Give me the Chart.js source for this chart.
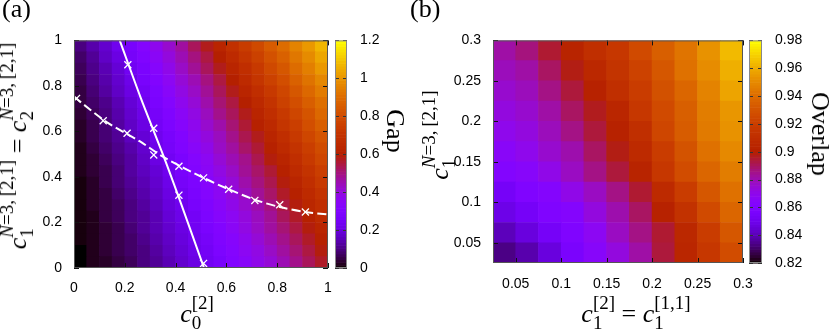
<!DOCTYPE html>
<html>
<head>
<meta charset="utf-8">
<script src="https://cdn.jsdelivr.net/npm/chart.js@4.4.1/dist/chart.umd.min.js"></script>
<style>
body { margin: 0; background: #fff; }
#wrap { position: relative; width: 831px; height: 332px; overflow: hidden; }
canvas { position: absolute; top: 0; }
#ca { left: 0; }
#cb { left: 415px; }
.t { position: absolute; font-family: "Liberation Serif", "Times New Roman", serif; font-size: 26px; color: #000; white-space: nowrap; line-height: 1; }
.t i { font-style: italic; }
.ss { display: inline-block; vertical-align: -7px; font-size: 19px; line-height: 20px; }
.ss > span { display: block; }
.ctr { transform: translate(-50%, -50%); }
.up { transform: translate(-50%, -50%) rotate(-90deg); }
.down { transform: translate(-50%, -50%) rotate(90deg); }
</style>
</head>
<body>
<div id="wrap">
  <canvas id="ca" width="415" height="332"></canvas>
  <canvas id="cb" width="416" height="332"></canvas>

  <div class="t" style="left:2px;top:-4px">(a)</div>
  <div class="t" style="left:410px;top:-4px">(b)</div>

  <div class="t up" style="left:17px;top:146px"><i>c</i><span class="ss"><span><i>N</i>=3,&thinsp;[2,1]</span><span>1</span></span> = <i>c</i><span class="ss"><span><i>N</i>=3,&thinsp;[2,1]</span><span>2</span></span></div>
  <div class="t ctr" style="left:197px;top:313px"><i>c</i><span class="ss"><span>[2]</span><span>0</span></span></div>
  <div class="t down" style="left:395px;top:131px">Gap</div>

  <div class="t up" style="left:439px;top:135px"><i>c</i><span class="ss"><span><i>N</i>=3,&thinsp;[2,1]</span><span>1</span></span></div>
  <div class="t ctr" style="left:636px;top:313px"><i>c</i><span class="ss"><span>[2]</span><span>1</span></span> = <i>c</i><span class="ss"><span>[1,1]</span><span>1</span></span></div>
  <div class="t down" style="left:820px;top:134px">Overlap</div>
</div>

<script>
// ---------- panel (a): gap ----------
const gapC0 = [0.025, 0.075, 0.125, 0.175, 0.225, 0.275, 0.325, 0.375, 0.425, 0.475,
               0.525, 0.575, 0.625, 0.675, 0.725, 0.775, 0.825, 0.875, 0.925, 0.975];
const gapC1 = [0.025, 0.075, 0.125, 0.175, 0.225, 0.275, 0.325, 0.375, 0.425, 0.475,
               0.525, 0.575, 0.625, 0.675, 0.725, 0.775, 0.825, 0.875, 0.925, 0.975];
// one row per c1 value, bottom row first
const gapRows = [
  [0.00,0.02,0.03,0.05,0.07,0.10,0.12,0.15,0.18,0.21,0.24,0.27,0.31,0.34,0.38,0.41,0.45,0.49,0.53,0.57],
  [0.00,0.02,0.04,0.06,0.08,0.10,0.13,0.16,0.19,0.22,0.25,0.29,0.32,0.36,0.39,0.43,0.47,0.51,0.55,0.59],
  [0.01,0.02,0.04,0.06,0.08,0.11,0.14,0.17,0.20,0.23,0.26,0.30,0.33,0.37,0.41,0.45,0.49,0.53,0.57,0.61],
  [0.01,0.02,0.04,0.06,0.09,0.12,0.15,0.18,0.21,0.24,0.28,0.31,0.35,0.39,0.43,0.47,0.51,0.55,0.59,0.63],
  [0.01,0.02,0.05,0.07,0.10,0.12,0.15,0.19,0.22,0.25,0.29,0.33,0.36,0.40,0.44,0.48,0.53,0.57,0.61,0.66],
  [0.01,0.03,0.05,0.07,0.10,0.13,0.16,0.20,0.23,0.27,0.30,0.34,0.38,0.42,0.46,0.50,0.55,0.59,0.64,0.68],
  [0.01,0.03,0.05,0.08,0.11,0.14,0.17,0.21,0.24,0.28,0.32,0.36,0.40,0.44,0.48,0.52,0.57,0.61,0.66,0.70],
  [0.01,0.03,0.06,0.09,0.12,0.15,0.18,0.22,0.26,0.29,0.33,0.37,0.41,0.46,0.50,0.54,0.59,0.63,0.68,0.73],
  [0.02,0.04,0.06,0.09,0.13,0.16,0.19,0.23,0.27,0.31,0.35,0.39,0.43,0.48,0.52,0.56,0.61,0.66,0.70,0.75],
  [0.02,0.04,0.07,0.10,0.13,0.17,0.21,0.24,0.28,0.32,0.36,0.41,0.45,0.49,0.54,0.59,0.63,0.68,0.73,0.78],
  [0.02,0.05,0.08,0.11,0.14,0.18,0.22,0.26,0.30,0.34,0.38,0.43,0.47,0.52,0.56,0.61,0.66,0.70,0.75,0.80],
  [0.03,0.06,0.09,0.12,0.16,0.19,0.23,0.27,0.31,0.36,0.40,0.44,0.49,0.54,0.58,0.63,0.68,0.73,0.78,0.83],
  [0.03,0.06,0.09,0.13,0.17,0.21,0.25,0.29,0.33,0.37,0.42,0.46,0.51,0.56,0.61,0.65,0.71,0.75,0.81,0.86],
  [0.04,0.07,0.10,0.14,0.18,0.22,0.26,0.30,0.35,0.39,0.44,0.49,0.53,0.58,0.63,0.68,0.73,0.78,0.83,0.89],
  [0.05,0.08,0.11,0.15,0.19,0.23,0.28,0.32,0.37,0.41,0.46,0.51,0.55,0.60,0.65,0.70,0.76,0.81,0.86,0.91],
  [0.05,0.09,0.13,0.17,0.21,0.25,0.29,0.34,0.39,0.43,0.48,0.53,0.58,0.63,0.68,0.73,0.78,0.84,0.89,0.94],
  [0.06,0.10,0.14,0.18,0.22,0.27,0.31,0.36,0.41,0.45,0.50,0.55,0.60,0.66,0.71,0.76,0.81,0.87,0.92,0.97],
  [0.07,0.11,0.15,0.19,0.24,0.28,0.33,0.38,0.43,0.48,0.53,0.58,0.63,0.68,0.73,0.79,0.84,0.90,0.95,1.01],
  [0.08,0.12,0.17,0.21,0.26,0.30,0.35,0.40,0.45,0.50,0.55,0.60,0.66,0.71,0.76,0.82,0.87,0.93,0.98,1.04],
  [0.10,0.14,0.18,0.23,0.27,0.32,0.37,0.42,0.47,0.53,0.58,0.63,0.69,0.74,0.79,0.85,0.90,0.96,1.01,1.07]
];
const gapTicks = [0, 0.2, 0.4, 0.6, 0.8, 1];
const gapTickLabels = ['0', '0.2', '0.4', '0.6', '0.8', '1'];
const gapBarTicks = [0, 0.2, 0.4, 0.6, 0.8, 1, 1.2];
const gapBarLabels = ['0', '0.2', '0.4', '0.6', '0.8', '1', '1.2'];

// solid curve and its crosses
const solidX = [0.180, 0.262, 0.353, 0.432, 0.512];
const solidY = [1.000, 0.750, 0.490, 0.250, 0.000];
const solidMarkX = [0.212, 0.314, 0.413, 0.510];
const solidMarkY = [0.893, 0.614, 0.320, 0.020];
// dashed curve and its crosses
const dashX = [0.000, 0.130, 0.260, 0.353, 0.510, 0.609, 0.712, 0.810, 0.911, 1.000];
const dashY = [0.752, 0.640, 0.556, 0.487, 0.396, 0.346, 0.300, 0.268, 0.246, 0.235];
const dashMarkX = [0.010, 0.115, 0.209, 0.314, 0.413, 0.510, 0.609, 0.712, 0.810, 0.911];
const dashMarkY = [0.745, 0.647, 0.592, 0.497, 0.447, 0.396, 0.346, 0.297, 0.278, 0.246];

// ---------- panel (b): overlap ----------
const ovC0 = [0.0375, 0.0625, 0.0875, 0.1125, 0.1375, 0.1625, 0.1875, 0.2125, 0.2375, 0.2625, 0.2875];
const ovC1 = [0.0375, 0.0625, 0.0875, 0.1125, 0.1375, 0.1625, 0.1875, 0.2125, 0.2375, 0.2625, 0.2875];
const ovRows = [
  [0.834,0.839,0.847,0.857,0.865,0.873,0.882,0.894,0.905,0.916,0.927],
  [0.841,0.847,0.854,0.860,0.868,0.878,0.886,0.895,0.906,0.919,0.932],
  [0.849,0.854,0.860,0.863,0.873,0.881,0.890,0.902,0.913,0.926,0.938],
  [0.854,0.860,0.863,0.871,0.878,0.886,0.895,0.908,0.919,0.932,0.942],
  [0.862,0.865,0.871,0.878,0.886,0.894,0.903,0.916,0.927,0.938,0.946],
  [0.866,0.870,0.876,0.881,0.890,0.898,0.908,0.919,0.930,0.942,0.950],
  [0.870,0.873,0.879,0.886,0.894,0.902,0.911,0.924,0.934,0.945,0.953],
  [0.873,0.876,0.882,0.890,0.897,0.905,0.916,0.926,0.935,0.946,0.954],
  [0.876,0.879,0.886,0.894,0.902,0.911,0.919,0.929,0.938,0.948,0.958],
  [0.879,0.882,0.890,0.898,0.906,0.914,0.922,0.932,0.942,0.951,0.961],
  [0.882,0.887,0.895,0.903,0.911,0.916,0.926,0.935,0.943,0.953,0.964]
];
const ovTicks = [0.05, 0.1, 0.15, 0.2, 0.25, 0.3];
const ovTickLabels = ['0.05', '0.1', '0.15', '0.2', '0.25', '0.3'];
const ovBarTicks = [0.82, 0.84, 0.86, 0.88, 0.9, 0.92, 0.94, 0.96, 0.98];
const ovBarLabels = ['0.82', '0.84', '0.86', '0.88', '0.9', '0.92', '0.94', '0.96', '0.98'];

// gnuplot default palette (rgbformulae 7,5,15)
function palette(t) {
  t = Math.min(1, Math.max(0, t));
  const r = Math.sqrt(t), g = t * t * t, b = Math.max(0, Math.sin(2 * Math.PI * t));
  return 'rgb(' + Math.round(255 * r) + ',' + Math.round(255 * g) + ',' + Math.round(255 * b) + ')';
}

function heatSets(xs, ys, rows, lo, hi, step) {
  return rows.map((row, j) => ({
    type: 'bar',
    order: 2,
    data: row.map((v, i) => ({ x: xs[i], y: [ys[j] - step / 2, ys[j] + step / 2] })),
    backgroundColor: row.map(v => palette((v - lo) / (hi - lo))),
    borderWidth: 0,
    barPercentage: 1,
    categoryPercentage: 1
  }));
}

function pts(xs, ys) { return xs.map((x, i) => ({ x: x, y: ys[i] })); }

const tickFont = { family: 'Liberation Sans', size: 14 };

// inner ticks, frame and colour box, like gnuplot draws them
const frame = {
  id: 'frame',
  afterDatasetsDraw(chart, args, o) {
    const { ctx, chartArea: a, scales } = chart;
    ctx.save();
    ctx.lineWidth = 1;
    ctx.strokeStyle = '#111';
    ctx.beginPath();
    scales.x.ticks.forEach(t => {
      const p = Math.round(scales.x.getPixelForValue(t.value)) + 0.5;
      ctx.moveTo(p, a.bottom); ctx.lineTo(p, a.bottom - 5);
      ctx.moveTo(p, a.top); ctx.lineTo(p, a.top + 5);
    });
    scales.y.ticks.forEach(t => {
      const p = Math.round(scales.y.getPixelForValue(t.value)) + 0.5;
      ctx.moveTo(a.left, p); ctx.lineTo(a.left + 5, p);
      ctx.moveTo(a.right, p); ctx.lineTo(a.right - 5, p);
    });
    ctx.stroke();
    ctx.strokeStyle = '#555';
    ctx.strokeRect(a.left + 0.5, a.top + 0.5, a.right - a.left - 1, a.bottom - a.top - 1);

    const cb = scales.cb;
    const x0 = a.right + o.gap, w = o.width, n = 80;
    for (let k = 0; k < n; k++) {
      const y0 = cb.getPixelForValue(cb.min + (cb.max - cb.min) * k / n);
      const y1 = cb.getPixelForValue(cb.min + (cb.max - cb.min) * (k + 1) / n);
      ctx.fillStyle = palette((k + 0.5) / n);
      ctx.fillRect(x0, y1, w, y0 - y1 + 0.6);
    }
    ctx.strokeStyle = '#333';
    ctx.beginPath();
    cb.ticks.forEach(t => {
      const p = Math.round(cb.getPixelForValue(t.value)) + 0.5;
      ctx.moveTo(x0, p); ctx.lineTo(x0 + 4, p);
      ctx.moveTo(x0 + w, p); ctx.lineTo(x0 + w - 4, p);
    });
    ctx.stroke();
    ctx.strokeStyle = '#888';
    ctx.strokeRect(x0 + 0.5, a.top + 0.5, w - 1, a.bottom - a.top - 1);
    ctx.restore();
  }
};

function axis(pos, min, max, tickVals, tickLabels, pad, size) {
  const horiz = pos === 'bottom';
  return {
    type: 'linear', position: pos, min: min, max: max,
    offset: false, stacked: horiz ? true : false,
    grid: { display: false, drawTicks: false }, border: { display: false },
    afterBuildTicks: s => { s.ticks = tickVals.map(v => ({ value: v })); },
    ticks: { font: tickFont, color: '#000', padding: pad, autoSkip: false, maxRotation: 0,
             callback: (v, i) => tickLabels[i] },
    afterFit: s => { if (horiz) s.height = size; else s.width = size; }
  };
}

new Chart(document.getElementById('ca'), {
  type: 'bar',
  data: {
    datasets: heatSets(gapC0, gapC1, gapRows, 0, 1.2, 0.05).concat([
      { type: 'line', order: 0, data: pts(solidX, solidY), borderColor: '#fff', borderWidth: 2,
        pointRadius: 0, tension: 0.3, clip: 0 },
      { type: 'line', order: 0, data: pts(dashX, dashY), borderColor: '#fff', borderWidth: 2,
        borderDash: [9, 4], pointRadius: 0, tension: 0.3, clip: 0 },
      { type: 'line', order: 0, data: pts(solidMarkX, solidMarkY), showLine: false,
        pointStyle: 'crossRot', pointRadius: 5, pointBorderColor: '#fff', pointBorderWidth: 1.3, clip: 0 },
      { type: 'line', order: 0, data: pts(dashMarkX, dashMarkY), showLine: false,
        pointStyle: 'crossRot', pointRadius: 5, pointBorderColor: '#fff', pointBorderWidth: 1.3, clip: 0 }
    ])
  },
  options: {
    responsive: false, animation: false, events: [],
    layout: { padding: { top: 13, left: 0, right: 0, bottom: 0 } },
    plugins: { legend: { display: false }, tooltip: { enabled: false }, frame: { gap: 7, width: 12 } },
    scales: {
      x: axis('bottom', 0, 1, gapTicks, gapTickLabels, 12, 64),
      y: axis('left', 0, 1, gapTicks, gapTickLabels, 12, 74),
      cb: axis('right', 0, 1.2, gapBarTicks, gapBarLabels, 32, 87)
    }
  },
  plugins: [frame]
});

new Chart(document.getElementById('cb'), {
  type: 'bar',
  data: { datasets: heatSets(ovC0, ovC1, ovRows, 0.82, 0.98, 0.025) },
  options: {
    responsive: false, animation: false, events: [],
    layout: { padding: { top: 13, left: 0, right: 0, bottom: 0 } },
    plugins: { legend: { display: false }, tooltip: { enabled: false }, frame: { gap: 6, width: 13 } },
    scales: {
      x: axis('bottom', 0.025, 0.3, ovTicks, ovTickLabels, 13, 69),
      y: axis('left', 0.025, 0.3, ovTicks, ovTickLabels, 12, 78),
      cb: axis('right', 0.82, 0.98, ovBarTicks, ovBarLabels, 32, 88)
    }
  },
  plugins: [frame]
});
</script>
</body>
</html>
